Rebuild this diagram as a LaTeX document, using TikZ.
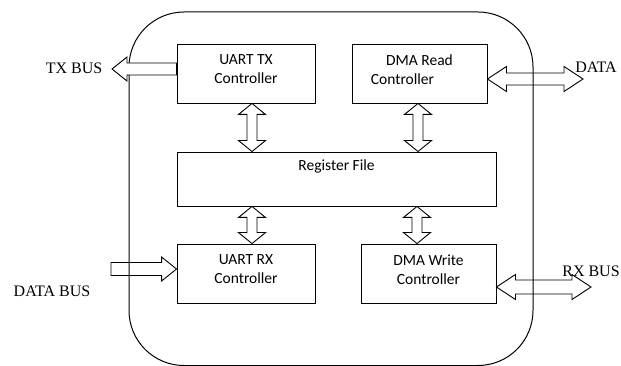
\documentclass[tikz,border=0pt]{standalone}
\usepackage{fontspec}
\setmainfont{Carlito}
\newfontfamily\lblfont{Liberation Serif}
\usetikzlibrary{calc}

% Outlined block arrows (white bodies with a thin black outline)
% horizontal double arrow: left point, right point, shaft half, head half, head length
\newcommand\hdouble[6][]{%
  \draw[blockarrow,#1] let \p1=(#2), \p2=(#3) in
    (\x1,\y1) -- (\x1+#6,\y1+#5) -- (\x1+#6,\y1+#4) -- (\x2-#6,\y1+#4)
    -- (\x2-#6,\y1+#5) -- (\x2,\y1) -- (\x2-#6,\y1-#5) -- (\x2-#6,\y1-#4)
    -- (\x1+#6,\y1-#4) -- (\x1+#6,\y1-#5) -- cycle;}
% vertical double arrow: top point, bottom point, shaft half, head half, head length
\newcommand\vdouble[5]{%
  \draw[blockarrow] let \p1=(#1), \p2=(#2) in
    (\x1,\y1) -- (\x1+#4,\y1-#5) -- (\x1+#3,\y1-#5) -- (\x1+#3,\y2+#5)
    -- (\x1+#4,\y2+#5) -- (\x1,\y2) -- (\x1-#4,\y2+#5) -- (\x1-#3,\y2+#5)
    -- (\x1-#3,\y1-#5) -- (\x1-#4,\y1-#5) -- cycle;}
% single arrow pointing right: tail, tip, shaft half, head half, head length
\newcommand\rsingle[6][]{%
  \draw[blockarrow,#1] let \p1=(#2), \p2=(#3) in
    (\x1,\y1+#4) -- (\x2-#6,\y1+#4) -- (\x2-#6,\y1+#5) -- (\x2,\y1)
    -- (\x2-#6,\y1-#5) -- (\x2-#6,\y1-#4) -- (\x1,\y1-#4) -- cycle;}
% single arrow pointing left: tip, tail, shaft half, head half, head length
\newcommand\lsingle[6][]{%
  \draw[blockarrow,#1] let \p1=(#2), \p2=(#3) in
    (\x1,\y1) -- (\x1+#6,\y1+#5) -- (\x1+#6,\y1+#4) -- (\x2,\y1+#4)
    -- (\x2,\y1-#4) -- (\x1+#6,\y1-#4) -- (\x1+#6,\y1-#5) -- cycle;}

\begin{document}
\begin{tikzpicture}[x=1pt,y=-1pt,
  blockarrow/.style={draw=black,line width=0.9pt,line join=miter},
  unit/.style={draw=black,line width=0.9pt,minimum height=59pt,inner sep=0pt},
  unittext/.style={font=\fontsize{15.5}{19}\selectfont,align=center,inner sep=0pt,text=black},
  buslabel/.style={font=\lblfont\fontsize{16}{18}\selectfont,inner sep=0pt,text=black}]
\useasboundingbox (0,0) rectangle (621,366);

% outer chip boundary
\draw[line width=1pt,draw=black,rounded corners=55pt] (129,12) rectangle (533,365.5);

% functional blocks
\node[unit,minimum width=138pt] (tx) at (246,73.5) {};
\node[unit,minimum width=135pt] (dr) at (419.5,73.5) {};
\node[unit,minimum width=319pt,minimum height=54pt] (reg) at (336.5,179) {};
\node[unit,minimum width=138pt] (rx) at (246,273.5) {};
\node[unit,minimum width=135pt] (dw) at (428.5,273.5) {};

\node[unittext] (txl) at ([yshift=4pt]tx.center) {UART TX\\Controller};
\node[unittext] (drl) at ([yshift=4pt]dr.center) {DMA Read\\\hspace*{-34pt}Controller};
\node[unittext] (regl) at ([yshift=13pt]reg.center) {Register File};
\node[unittext] (rxl) at ([yshift=4pt]rx.center) {UART RX\\Controller};
\node[unittext] (dwl) at ([yshift=4pt]dw.center) {DMA Write\\Controller};

% free ends of the bus arrows
\coordinate (txend) at (112,69);
\coordinate (dataend) at (583,79);
\coordinate (dbstart) at (111,269);
\coordinate (rxend) at (591,287);

% block <-> register file
\vdouble{tx.south -| 252,0}{reg.north -| 252,0}{5pt}{13.5pt}{11pt}
\vdouble{dr.south -| 418,0}{reg.north -| 418,0}{5pt}{13.5pt}{11pt}
\vdouble{reg.south -| 252,0}{rx.north -| 252,0}{5pt}{13.5pt}{11pt}
\vdouble{reg.south -| 417,0}{dw.north -| 417,0}{5pt}{13.5pt}{11pt}

% external buses
\lsingle[fill=white]{txend}{tx.west |- txend}{6pt}{12pt}{15pt}
\hdouble{dr.east |- dataend}{dataend}{6pt}{12.5pt}{19pt}
\rsingle{dbstart}{rx.west |- dbstart}{6.5pt}{12pt}{15pt}
\hdouble{dw.east |- rxend}{rxend}{7pt}{12.5pt}{19pt}

% bus labels
\node[buslabel] (txlbl) at (74,68) {TX BUS};
\node[buslabel] (datalbl) at (596,67) {DATA};
\node[buslabel] (dblbl) at (52,291) {DATA BUS};
\node[buslabel] (rxlbl) at (591,271) {RX BUS};
\end{tikzpicture}
\end{document}
